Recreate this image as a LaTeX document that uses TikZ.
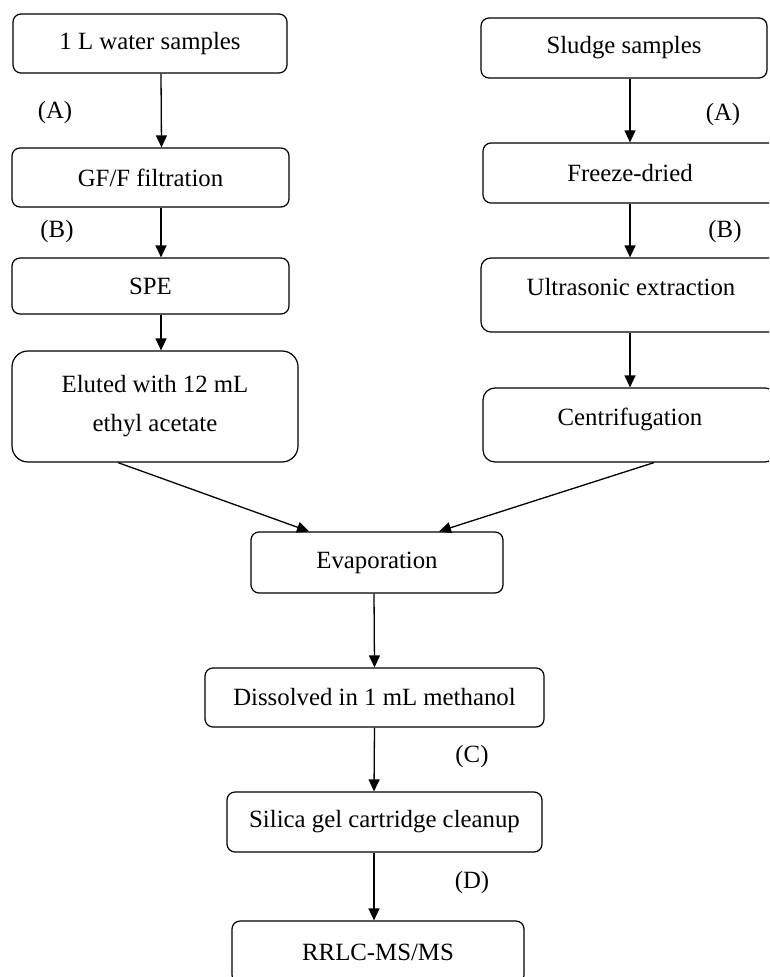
\documentclass[tikz,border=0pt]{standalone}
\usepackage{fontspec}
\setmainfont{Liberation Serif}
\usetikzlibrary{arrows.meta}

\begin{document}
\begin{tikzpicture}[x=0.5pt,y=-0.5pt,
    every node/.style={font=\fontsize{12.4}{19.5}\selectfont},
    stepbox/.style={draw,line width=0.6pt,rounded corners=4pt,align=center,inner sep=0pt},
    flow/.style={line width=0.65pt,-{Triangle[length=6pt,width=5.5pt]}}]
      \useasboundingbox (0,0) rectangle (769,977);
      \clip (0,0) rectangle (769,977);
      \path
        (150,43.5) node[stepbox,minimum width=137pt,minimum height=29.5pt] (water){1 L water samples}
        (150.5,177.5) node[stepbox,minimum width=138.5pt,minimum height=29.5pt] (filtration){GF/F filtration}
        (150.5,286) node[stepbox,minimum width=138.5pt,minimum height=28pt] (spe){SPE}
        (155,406.5) node[stepbox,rounded corners=8pt,minimum width=143pt,minimum height=55.5pt] (eluted){Eluted with 12 mL\\ethyl acetate}
        (624,48) node[stepbox,minimum width=143pt,minimum height=30pt] (sludge){Sludge samples}
        (630,173) node[stepbox,minimum width=147pt,minimum height=30pt] (freeze){Freeze-dried}
        (631,295) node[stepbox,rounded corners=5pt,text depth=8pt,minimum width=150pt,minimum height=37pt] (ultra){Ultrasonic extraction}
        (630,425) node[stepbox,rounded corners=6pt,text depth=8pt,minimum width=147pt,minimum height=37pt] (centri){Centrifugation}
        (377,562.5) node[stepbox,minimum width=126pt,minimum height=30.5pt] (evap){Evaporation}
        (374.5,697.5) node[stepbox,minimum width=169.5pt,minimum height=29.5pt] (dissolved){Dissolved in 1 mL methanol}
        (384.5,822) node[stepbox,minimum width=157.5pt,minimum height=30pt] (silica){Silica gel cartridge cleanup}
        (378,952) node[stepbox,minimum width=146pt,minimum height=31pt] (rrlc){RRLC-MS/MS};
      \path
        (55,113) node (waterA){(A)}
        (57,232) node (waterB){(B)}
        (723,115) node (sludgeA){(A)}
        (725,232) node (sludgeB){(B)}
        (472,757) node (stepC){(C)}
        (472,883) node (stepD){(D)};
      \begin{scope}[flow]
        \draw ([xshift=5.5pt]water.south) to ([xshift=5.5pt]filtration.north);
        \draw ([xshift=5.25pt]filtration.south) to ([xshift=5.25pt]spe.north);
        \draw ([xshift=5.25pt]spe.south) to ([xshift=3pt]eluted.north);
        \draw ([xshift=3pt]sludge.south) to (freeze.north);
        \draw (freeze.south) to ([xshift=-0.5pt]ultra.north);
        \draw ([xshift=-0.5pt]ultra.south) to (centri.north);
        \draw ([xshift=-18.5pt]eluted.south) to ([xshift=-34pt]evap.north);
        \draw ([xshift=12pt]centri.south) to ([xshift=31pt]evap.north);
        \draw ([xshift=-1.5pt]evap.south) to (dissolved.north);
        \draw (dissolved.south) to ([xshift=-5.25pt]silica.north);
        \draw ([xshift=-5.25pt]silica.south) to ([xshift=-2pt]rrlc.north);
      \end{scope}
    \end{tikzpicture}
\end{document}
